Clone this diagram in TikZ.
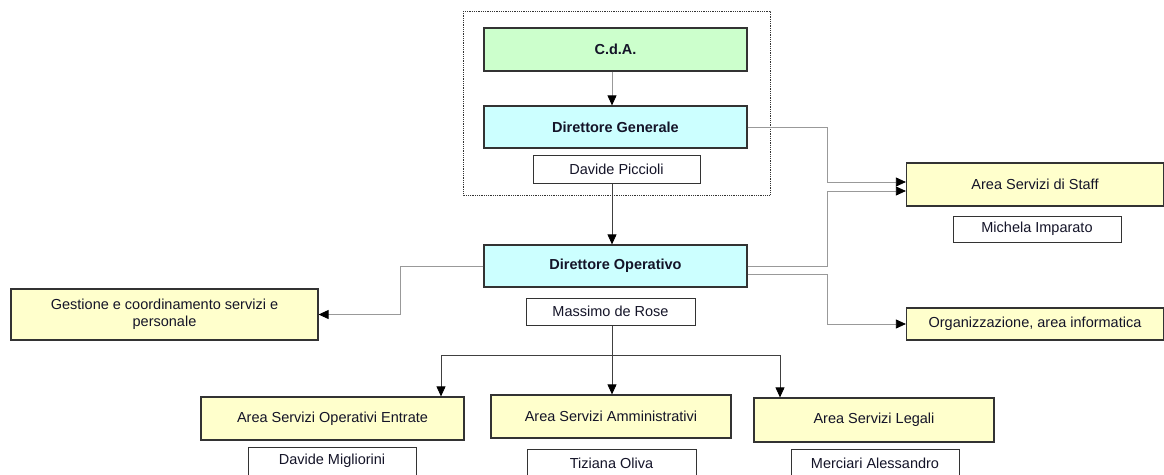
\documentclass[tikz,border=0pt]{standalone}
\usepackage{fontspec}
\setmainfont{Liberation Sans}
\usetikzlibrary{arrows.meta}
\definecolor{boxgreen}{HTML}{CCFFCC}
\definecolor{boxcyan}{HTML}{CCFFFF}
\definecolor{boxyellow}{HTML}{FFFFCC}
\definecolor{textc}{HTML}{141428}
\tikzset{
  box/.style={draw=black!80, line width=1.2pt, inner sep=0pt, align=center, text=textc,
    font=\fontsize{14.5}{17}\selectfont},
  boldbox/.style={box, font=\fontsize{14.5}{17}\selectfont\bfseries},
  namebox/.style={box, fill=white, line width=1pt},
  conn/.style={draw=black!40, line width=0.8pt, -{Triangle[length=10pt,width=9pt,color=black]}},
  connd/.style={draw=black!75, line width=0.8pt, -{Triangle[length=10pt,width=9pt,color=black]}},
  plaind/.style={draw=black!75, line width=0.8pt},
}
\begin{document}
\begin{tikzpicture}[x=1pt,y=-1pt]
\useasboundingbox (0,0) rectangle (1164,474);
% dotted group
\draw[densely dotted, line width=0.8pt, black!80] (463,11) rectangle (770,195);
% nodes
\node[boldbox, fill=boxgreen, minimum width=263pt, minimum height=43pt] (cda) at (615.5,49.5) {C.d.A.};
\node[boldbox, fill=boxcyan, minimum width=263pt, minimum height=42pt] (dg) at (615.5,127) {Direttore Generale};
\node[namebox, minimum width=167pt, minimum height=28pt] (dp) at (616.5,169) {Davide Piccioli};
\node[boldbox, fill=boxcyan, minimum width=263pt, minimum height=42pt] (do) at (615.5,266) {Direttore Operativo};
\node[namebox, minimum width=169pt, minimum height=27pt] (mr) at (610.5,311.5) {Massimo de Rose};
\node[box, fill=boxyellow, minimum width=307pt, minimum height=51pt] (gest) at (164.5,314.5) {Gestione e coordinamento servizi e\\personale};
\node[box, fill=boxyellow, minimum width=257pt, minimum height=43pt] (staff) at (1035,184.5) {Area Servizi di Staff};
\node[namebox, minimum width=168pt, minimum height=26pt] (mi) at (1037,229) {Michela Imparato};
\node[box, fill=boxyellow, minimum width=257pt, minimum height=32pt] (org) at (1035,324) {Organizzazione, area informatica};
\node[box, fill=boxyellow, minimum width=263pt, minimum height=43pt] (aoe) at (332.5,418.5) {Area Servizi Operativi Entrate};
\node[box, fill=boxyellow, minimum width=240pt, minimum height=43pt] (asa) at (611,416.5) {Area Servizi Amministrativi};
\node[box, fill=boxyellow, minimum width=240pt, minimum height=44pt] (asl) at (874,420) {Area Servizi Legali};
\node[namebox, minimum width=168pt, minimum height=28pt] (dm) at (332,461) {Davide Migliorini};
\node[namebox, minimum width=169pt, minimum height=28pt] (to) at (611.5,463) {Tiziana Oliva};
\node[namebox, minimum width=168pt, minimum height=28pt] (ma) at (875,463) {Merciari Alessandro};
% helper coordinates
\coordinate (k1) at (827,0);
\coordinate (k2) at (400,0);
\coordinate (bar) at (0,355);
% connectors
\draw[conn] (cda.south -| 612,0) -- (dg.north -| 612,0);
\draw[connd] (dp.south -| 612,0) -- (do.north -| 612,0);
\draw[conn] (dg.east) -- (dg.east -| k1) |- ([yshift=2.5pt]staff.west);
\draw[conn] (do.east) -- (do.east -| k1) |- ([yshift=-6.5pt]staff.west);
\draw[conn] ([yshift=-8pt]do.east) -- ([yshift=-8pt]do.east -| k1) |- (org.west);
\draw[conn] (do.west) -- (do.west -| k2) |- (gest.east);
% tree
\draw[plaind] (mr.south -| 612,0) -- (bar -| 612,0);
\draw[plaind] (bar -| 441,0) -- (bar -| 780,0);
\draw[connd] (bar -| 441,0) -- (aoe.north -| 441,0);
\draw[connd] (bar -| 612,0) -- (asa.north -| 612,0);
\draw[connd] (bar -| 780,0) -- (asl.north -| 780,0);
\end{tikzpicture}
\end{document}
